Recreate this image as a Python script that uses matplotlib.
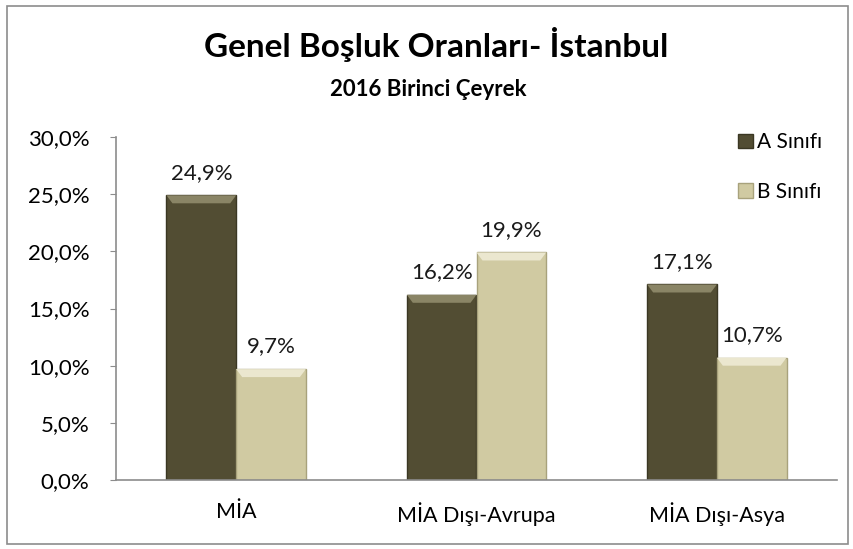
import numpy as np
import matplotlib.pyplot as plt
from matplotlib.patches import Rectangle, Polygon
from matplotlib.ticker import FuncFormatter

categories = ['MİA', 'MİA Dışı-Avrupa', 'MİA Dışı-Asya']
a_sinifi = [24.9, 16.2, 17.1]
b_sinifi = [9.7, 19.9, 10.7]
series_names = ['A Sınıfı', 'B Sınıfı']

plt.rcParams['font.family'] = ['Lato', 'DejaVu Sans']

fig = plt.figure(figsize=(8.54, 5.49), dpi=100)
fig.patches.append(Rectangle((7 / 854, 5 / 549), 841 / 854, 538 / 549,
                             transform=fig.transFigure, fill=False,
                             edgecolor='#8c8c8c', linewidth=1.2))

ax = fig.add_axes([116 / 854, 69 / 549, 721 / 854, 343 / 549])

x = np.arange(len(categories))
w = 0.29
col_a = '#524d33'
col_b = '#d0caa2'
bars_a = ax.bar(x - w / 2, a_sinifi, w, color=col_a, edgecolor='#3a3723',
                linewidth=1.0, label=series_names[0])
bars_b = ax.bar(x + w / 2, b_sinifi, w, color=col_b, edgecolor='#a8a27c',
                linewidth=1.0, label=series_names[1])

# bevel highlight at the top of each bar (trapezoid)
bev_x, bev_y = 0.025, 0.7
for bars, hl in ((bars_a, '#8a8566'), (bars_b, '#ebe7cf')):
    for b in bars:
        x0, x1, h = b.get_x(), b.get_x() + b.get_width(), b.get_height()
        ax.add_patch(Polygon([(x0, h), (x1, h), (x1 - bev_x, h - bev_y),
                              (x0 + bev_x, h - bev_y)], closed=True,
                             color=hl, linewidth=0, zorder=3))

for bars, vals in ((bars_a, a_sinifi), (bars_b, b_sinifi)):
    for b, v in zip(bars, vals):
        ax.text(b.get_x() + b.get_width() / 2, v + 1.1,
                f'{v:.1f}%'.replace('.', ','), ha='center', va='bottom',
                fontsize=16, color='#1a1a1a')

ax.set_xlim(-0.5, 2.5)
ax.set_ylim(0, 30)
ax.set_yticks(np.arange(0, 31, 5))
ax.yaxis.set_major_formatter(FuncFormatter(lambda v, p: f'{v:.1f}%'.replace('.', ',')))
ax.set_xticks(x)
ax.set_xticklabels(categories)
ax.tick_params(axis='y', labelsize=16, length=4, color='#8c8c8c', pad=15)
ax.tick_params(axis='x', labelsize=15.5, length=0, pad=16)
for s in ('top', 'right'):
    ax.spines[s].set_visible(False)
for s in ('left', 'bottom'):
    ax.spines[s].set_color('#8c8c8c')
    ax.spines[s].set_linewidth(1.2)

fig.text(436 / 854, 1 - 45 / 549, 'Genel Boşluk Oranları- İstanbul',
         ha='center', va='center', fontsize=24, fontweight='bold')
fig.text(428 / 854, 1 - 89 / 549, '2016 Birinci Çeyrek',
         ha='center', va='center', fontsize=16, fontweight='bold')

ax.legend(loc='upper left', bbox_to_anchor=(728 / 854, 1 - 122 / 549),
          bbox_transform=fig.transFigure, frameon=False, fontsize=15,
          handlelength=0.7, handleheight=0.7, handletextpad=0.2,
          labelspacing=1.4, borderpad=0)

fig.savefig('out.png', dpi=100)
